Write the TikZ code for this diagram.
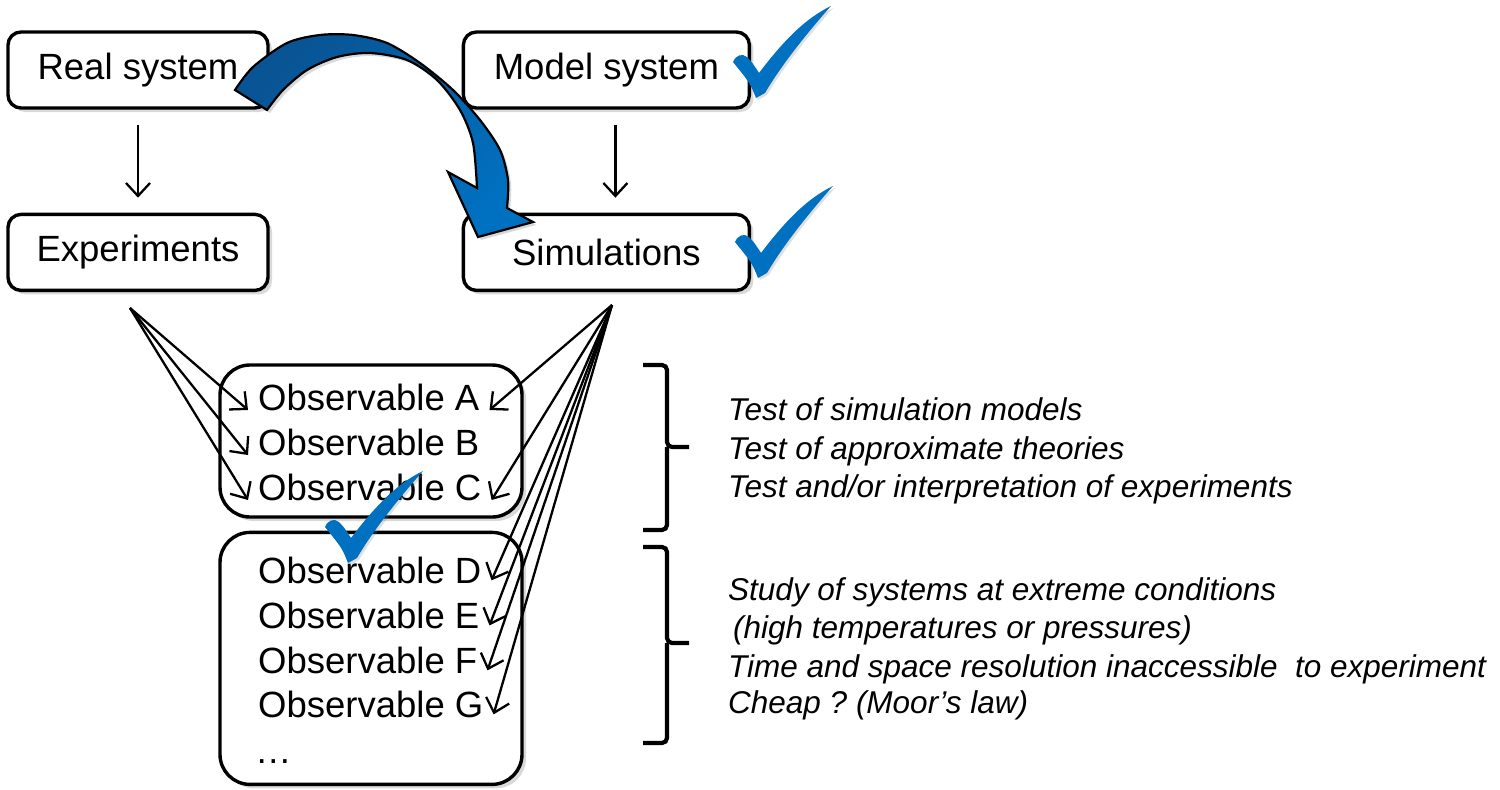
\documentclass[tikz,border=0pt]{standalone}
\usepackage{fontspec}
\setmainfont{Liberation Sans}
\usetikzlibrary{positioning, arrows.meta, shadows}
\frenchspacing

\definecolor{tickblue}{RGB}{0,112,192}
\definecolor{arrowdark}{RGB}{8,84,148}
\definecolor{arrowlight}{RGB}{0,112,192}

\newcommand{\boxfont}{\fontsize{36.5}{44}\selectfont}
\newcommand{\notefont}{\fontsize{31.5}{38}\selectfont\itshape}
% blue check mark, #1 = its lowest point
\newcommand{\bluetick}[1]{%
	\fill[tickblue, shift={#1}, drop shadow={opacity=0.25, shadow xshift=2pt, shadow yshift=-2pt}]
	(0,0) .. controls (-6,-15) .. (-23,-36)
	.. controls (-20,-43) and (-14,-45) .. (-9,-41)
	.. controls (-5,-37) .. (3,-25)
	.. controls (28,-58) and (50,-80) .. (75,-92)
	.. controls (52,-66) and (26,-34) .. (9,-5)
	-- cycle;}

\begin{document}
\begin{tikzpicture}[x=1pt, y=-1pt,
	sysbox/.style={draw, line width=3.4pt, rounded corners=13pt, fill=white,
		minimum height=76pt, inner sep=0pt, font=\boxfont,
		drop shadow={opacity=0.3, shadow xshift=4pt, shadow yshift=-4pt}},
	obsbox/.style={draw, line width=3.4pt, rounded corners=30pt, fill=white,
		minimum width=302pt,
		drop shadow={opacity=0.3, shadow xshift=4pt, shadow yshift=-4pt}},
	obstext/.style={anchor=base west, inner sep=10pt, font=\boxfont},
	notetext/.style={anchor=base west, inner sep=0pt, font=\notefont},
	thinarrow/.style={line width=2.3pt, -{Straight Barb[length=13pt, width=24pt]}},
	bracebar/.style={line width=4.2pt, rounded corners=5pt},
	bigarrow/.style={draw=black, line width=2.2pt, top color=arrowdark,
		bottom color=arrowlight, shading angle=45,
		drop shadow={opacity=0.3, shadow xshift=3pt, shadow yshift=-3pt}}]
	\useasboundingbox (0,0) rectangle (1500,790);

	% top row and second row
	\node[sysbox, minimum width=260pt] (real) at (138,70) {Real system};
	\node[sysbox, minimum width=286pt, right=192pt of real] (model) {Model system};
	\node[sysbox, minimum width=260pt, below=103pt of real] (exper) {Experiments};
	\node[sysbox, minimum width=286pt, below=103pt of model] (simul) {Simulations};

	\draw[thinarrow] ([yshift=-15pt]real.south) -- ([yshift=15pt]exper.north);
	\draw[thinarrow] ([xshift=9pt, yshift=-15pt]model.south) -- ([xshift=9pt, yshift=15pt]simul.north);

	% observables
	\node[obsbox, minimum height=152pt] (obsupper) at (371,441) {};
	\node[obsbox, minimum height=252pt, below=12pt of obsupper] (obslower) {};

	\node[obstext] (obsA) at (248,410) {Observable A};
	\node[obstext] (obsB) at (248,455) {Observable B};
	\node[obstext] (obsC) at (248,500) {Observable C};
	\node[obstext] (obsD) at (248,583) {Observable D};
	\node[obstext] (obsE) at (248,628) {Observable E};
	\node[obstext] (obsF) at (248,673) {Observable F};
	\node[obstext] (obsG) at (248,717) {Observable G};
	\node[obstext] (obsmore) at (245,763) {…};

	\coordinate (expsrc) at (130,308);
	\coordinate (simsrc) at (612,305);
	\foreach \o in {A,B,C}
		\draw[thinarrow] (expsrc) -- (obs\o.base west);
	\foreach \o in {A,C}
		\draw[thinarrow] (simsrc) -- (obs\o.base east);
	\foreach \o in {D,E,F,G}
		\draw[thinarrow] (simsrc) -- (obs\o.mid east);

	% big curved arrow
	\draw[bigarrow] plot[smooth] coordinates {(235,90) (253,67) (287,43) (320,35) (353,35)
		(387,43) (420,63) (453,90) (480,120) (500,150) (508,180) (507,208)}
		-- (533,222) -- (478,237) -- (448,172)
		-- plot[smooth] coordinates {(477,188) (473,143) (460,110) (437,80) (407,60)
		(370,53) (337,57) (307,70) (283,90) (267,110)} -- cycle;

	% brackets
	\draw[bracebar] (643,365) -| (667,447) -- (689,447);
	\draw[bracebar] (643,530) -| (667,447);
	\draw[bracebar] (643,547) -| (667,643) -- (689,643);
	\draw[bracebar] (643,743) -| (667,643);

	\node[notetext] (note1) at (728,420) {Test of simulation models};
	\node[notetext] (note2) at (728,459) {Test of approximate theories};
	\node[notetext] (note3) at (728,497) {Test and/or interpretation of experiments};
	\node[notetext] (note4) at (728,600) {Study of systems at extreme conditions};
	\node[notetext] (note5) at (733,638) {(high temperatures or pressures)};
	\node[notetext] (note6) at (728,677) {Time and space resolution inaccessible\ \ to experiment};
	\node[notetext] (note7) at (728,713) {Cheap ? (Moor’s law)};

	% check marks
	\bluetick{(756,98)}
	\bluetick{(758,278)}
	\bluetick{(348,563)}
\end{tikzpicture}
\end{document}
